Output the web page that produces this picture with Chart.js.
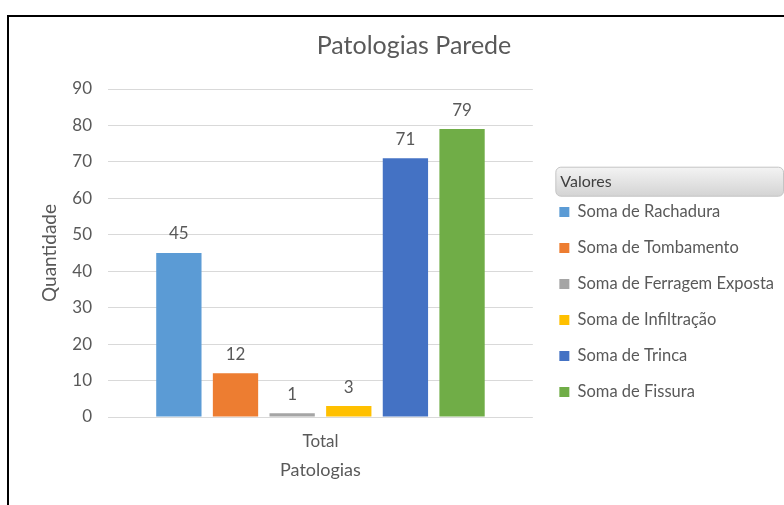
<!DOCTYPE html>
<html lang="pt-BR">
<head>
<meta charset="utf-8">
<title>Patologias Parede</title>
<script src="https://cdn.jsdelivr.net/npm/chart.js@4.4.1/dist/chart.umd.min.js"></script>
<style>
    html, body { margin: 0; padding: 0; background: #fff; }
    #moldura {
        position: absolute;
        left: 7px;
        top: 15px;
        width: 777px;
        height: 490px;
        border-top: 2px solid #000;
        border-left: 2px solid #000;
        box-sizing: border-box;
    }
    #grafico { display: block; }
</style>
</head>
<body>
<div id="moldura">
    <canvas id="grafico" width="775" height="488"></canvas>
</div>
<script>
// --- Dados do gráfico ---
const categorias = ['Total'];
const series = ['Soma de Rachadura', 'Soma de Tombamento', 'Soma de Ferragem Exposta',
                'Soma de Infiltração', 'Soma de Trinca', 'Soma de Fissura'];
const valores = [45, 12, 1, 3, 71, 79];
const cores = ['#5B9BD5', '#ED7D31', '#A5A5A5', '#FFC000', '#4472C4', '#70AD47'];
const ticksY = [0, 10, 20, 30, 40, 50, 60, 70, 80, 90];

const corTexto = '#595959';
const fonte = 'Lato, "Open Sans", sans-serif';

/**
 * Desenha o valor de cada barra logo acima dela.
 */
const rotulosDados = {
    id: 'rotulosDados',
    afterDatasetsDraw(chart) {
        const ctx = chart.ctx;
        ctx.save();
        ctx.font = `17px ${fonte}`;
        ctx.fillStyle = corTexto;
        ctx.textAlign = 'center';
        ctx.textBaseline = 'middle';
        chart.data.datasets.forEach((ds, i) => {
            const meta = chart.getDatasetMeta(i);
            meta.data.forEach((barra, j) => {
                ctx.fillText(String(ds.data[j]), barra.x, barra.y - 19);
            });
        });
        ctx.restore();
    }
};

/**
 * Caixa cinza com o título da legenda ("Valores"), acima do primeiro item.
 */
const caixaTituloLegenda = {
    id: 'caixaTituloLegenda',
    afterDraw(chart) {
        const leg = chart.legend;
        if (!leg || !leg.legendHitBoxes.length) return;
        const primeiro = leg.legendHitBoxes[0];
        const ctx = chart.ctx;
        const x = primeiro.left - 4;
        const y = primeiro.top - 37;
        const w = chart.width - x - 1;
        const h = 29;
        const grad = ctx.createLinearGradient(0, y, 0, y + h);
        grad.addColorStop(0, '#f4f4f4');
        grad.addColorStop(1, '#d4d4d4');
        ctx.save();
        ctx.beginPath();
        ctx.roundRect(x + 0.5, y + 0.5, w, h, 5);
        ctx.fillStyle = grad;
        ctx.fill();
        ctx.strokeStyle = '#c4c4c4';
        ctx.stroke();
        ctx.font = `16px ${fonte}`;
        ctx.fillStyle = '#404040';
        ctx.textAlign = 'left';
        ctx.textBaseline = 'middle';
        ctx.fillText('Valores', x + 5, y + h / 2 + 1);
        ctx.restore();
    }
};

const ctxGrafico = document.getElementById('grafico').getContext('2d');

new Chart(ctxGrafico, {
    type: 'bar',
    data: {
        labels: categorias,
        datasets: series.map((nome, i) => ({
            label: nome,
            data: [valores[i]],
            backgroundColor: cores[i],
            borderWidth: 0
        }))
    },
    options: {
        responsive: false,
        animation: false,
        datasets: {
            bar: { categoryPercentage: 0.8, barPercentage: 0.8 }
        },
        layout: { padding: { left: 35, right: 0, top: 0, bottom: 20 } },
        scales: {
            x: {
                grid: { display: false },
                border: { display: false },
                ticks: { color: corTexto, font: { family: fonte, size: 17 }, padding: 6 },
                title: {
                    display: true,
                    text: 'Patologias',
                    color: corTexto,
                    font: { family: fonte, size: 18 },
                    padding: { top: 2 }
                }
            },
            y: {
                min: 0,
                max: 90,
                afterBuildTicks: (eixo) => { eixo.ticks = ticksY.map(v => ({ value: v })); },
                grid: { color: '#d9d9d9', drawTicks: false },
                border: { display: false },
                ticks: { color: corTexto, font: { family: fonte, size: 17 }, padding: 16 },
                title: {
                    display: true,
                    text: 'Quantidade',
                    color: corTexto,
                    font: { family: fonte, size: 19, lineHeight: 0.65 },
                    padding: { top: 0, bottom: 0 }
                }
            },
            // eixo vazio: só dá o espaço entre a área do gráfico e a legenda
            espaco: {
                position: 'right',
                display: true,
                grid: { display: false },
                border: { display: false },
                ticks: { display: false },
                afterFit: (eixo) => { eixo.width = 7; }
            }
        },
        plugins: {
            title: {
                display: true,
                text: 'Patologias Parede',
                color: corTexto,
                font: { family: fonte, size: 25, weight: 'normal' },
                padding: { top: 14, bottom: 28 }
            },
            legend: {
                position: 'right',
                align: 'start',
                maxWidth: 260,
                title: {
                    display: true,
                    text: ' ',
                    position: 'start',
                    font: { family: fonte, size: 16 },
                    padding: { top: 148, bottom: 0 }
                },
                labels: {
                    color: corTexto,
                    boxWidth: 10,
                    boxHeight: 10,
                    padding: 19.5,
                    font: { family: fonte, size: 16.5 }
                }
            },
            tooltip: { enabled: false }
        }
    },
    plugins: [caixaTituloLegenda, rotulosDados]
});
</script>
</body>
</html>
